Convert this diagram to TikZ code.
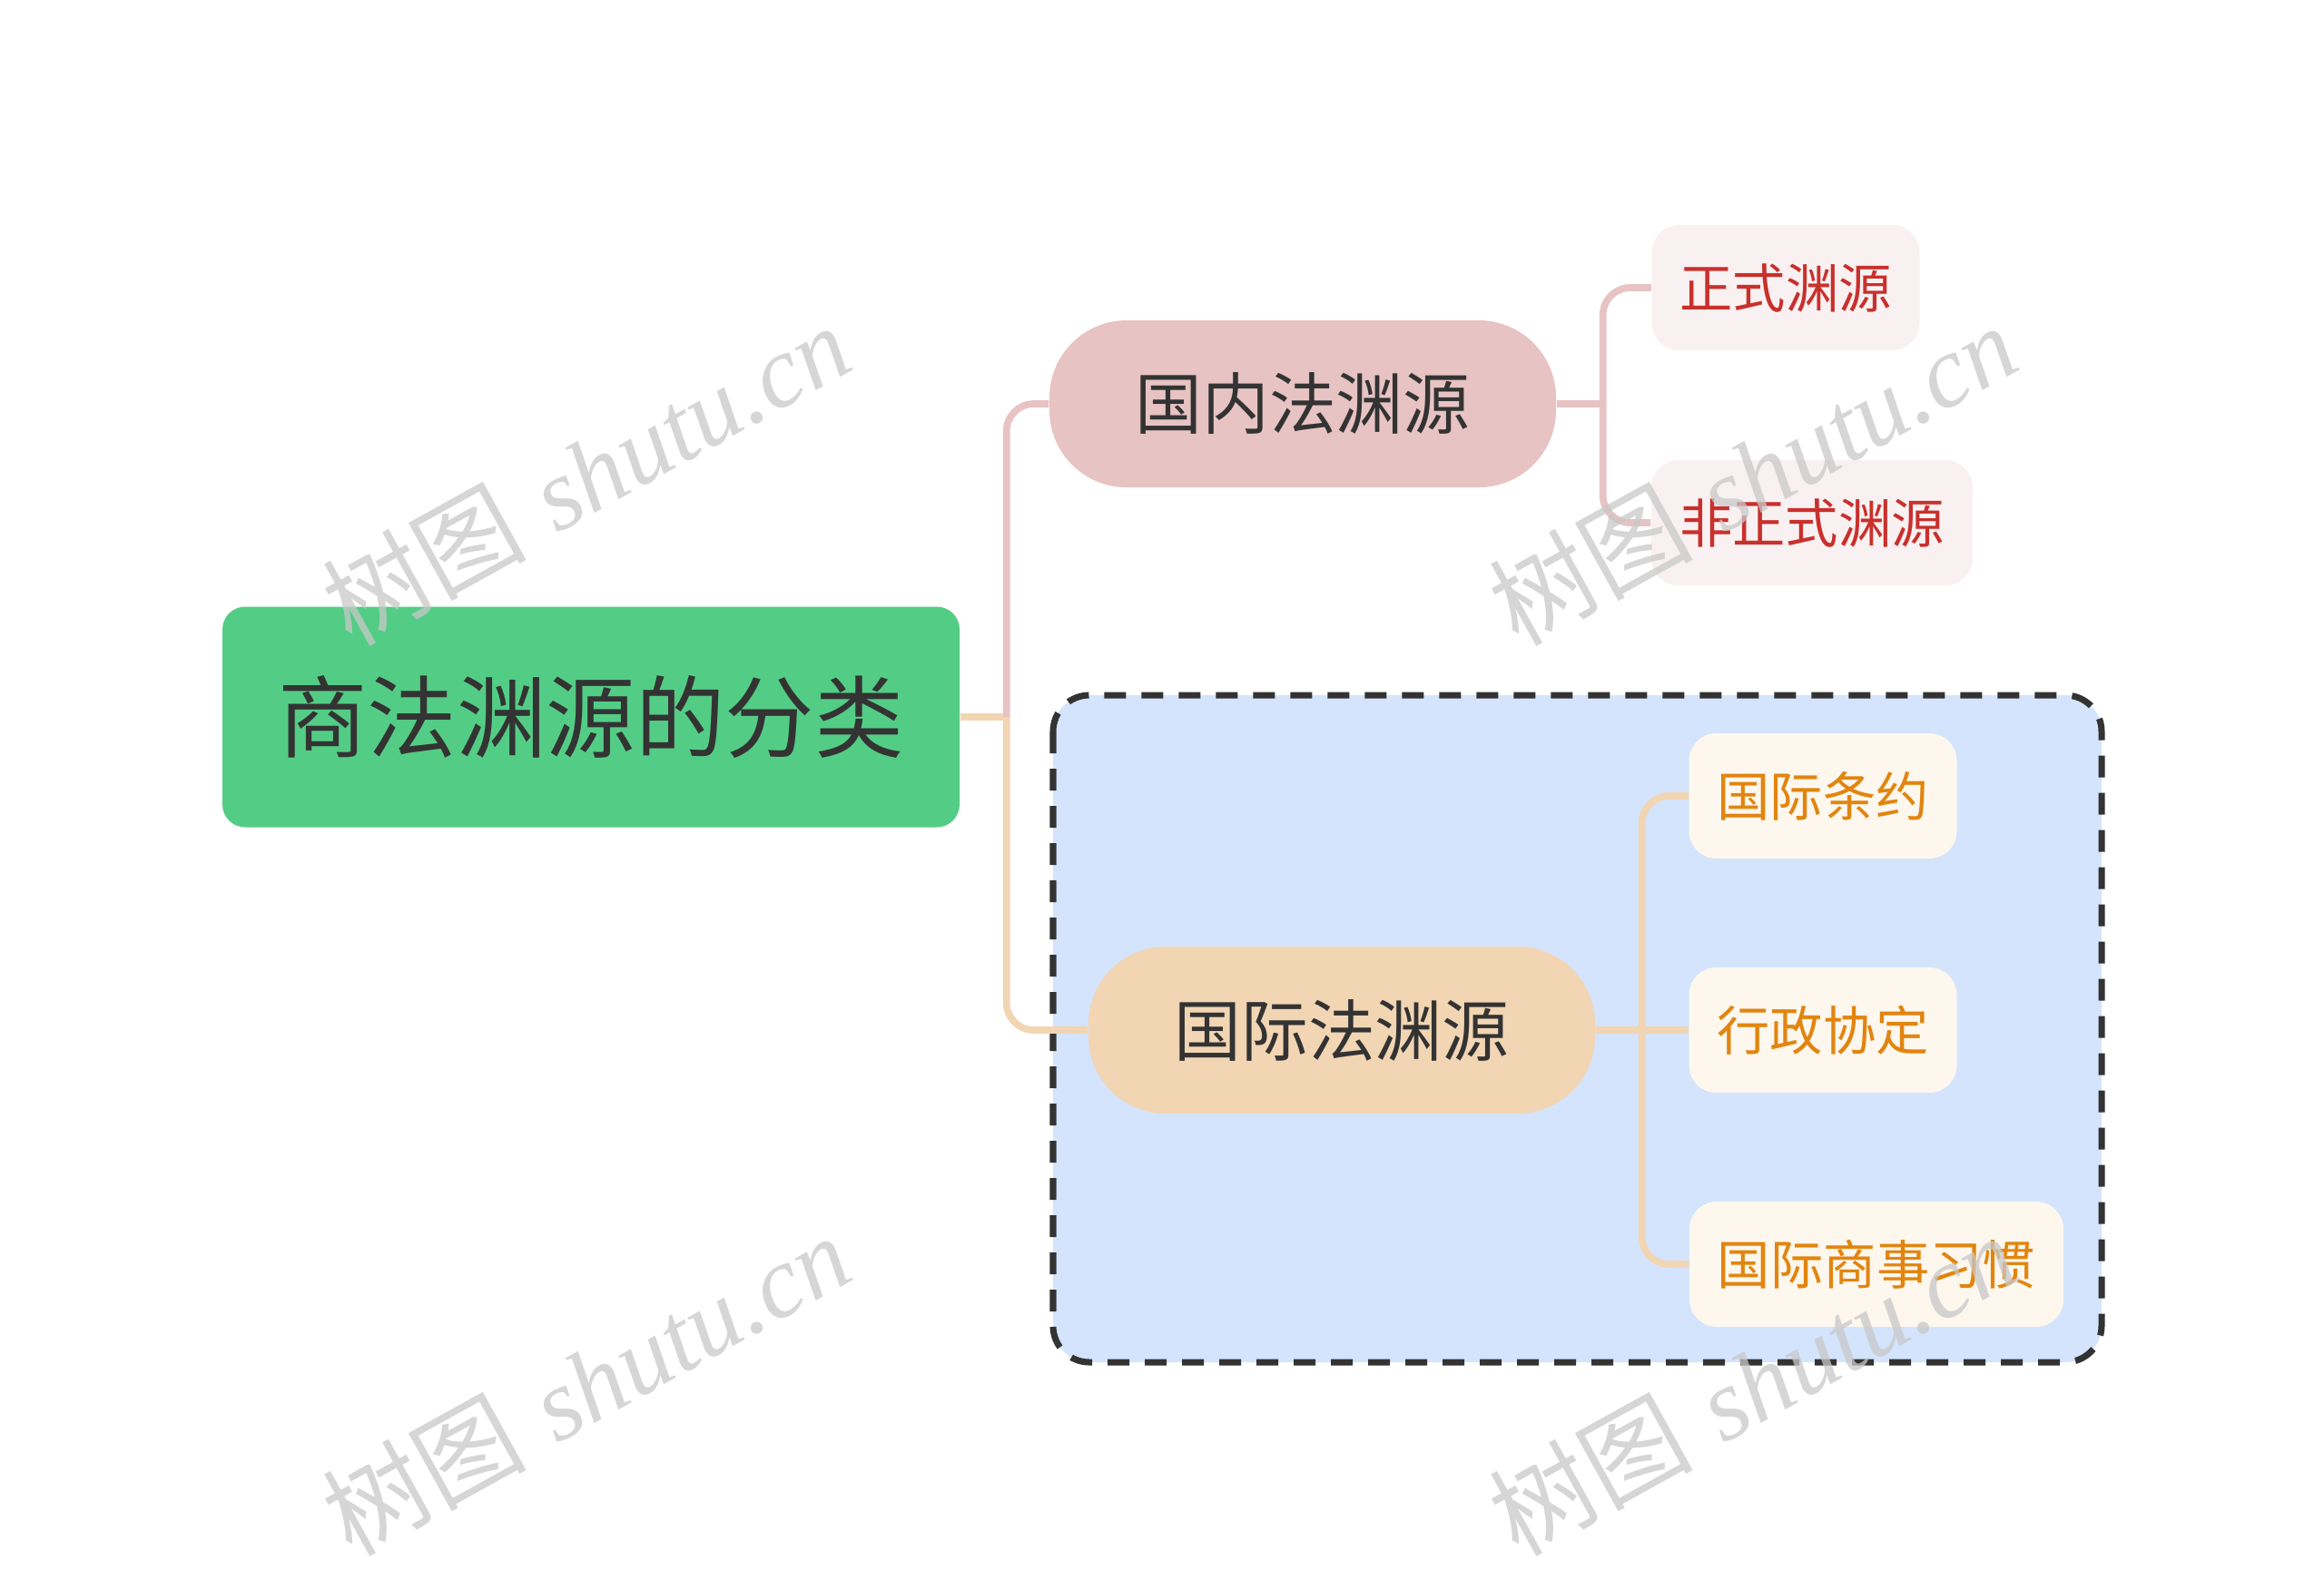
\documentclass[tikz,border=0pt]{standalone}
\usepackage{fontspec}
\usepackage{tikz}
\newfontfamily\cjk{Noto Sans CJK SC}
\newfontfamily\wmfont{Liberation Serif}

\definecolor{rootgreen}{HTML}{53CD85}
\definecolor{pinkfill}{HTML}{E8C3C3}
\definecolor{peachfill}{HTML}{F2D5B3}
\definecolor{pinkleaf}{HTML}{F9F1F1}
\definecolor{peachleaf}{HTML}{FDF7EE}
\definecolor{boxblue}{HTML}{D4E4FC}
\definecolor{txtdark}{HTML}{333333}
\definecolor{txtred}{HTML}{C9302C}
\definecolor{txtorange}{HTML}{E2850F}
\definecolor{wmgray}{HTML}{C8C8C8}

\tikzset{
  rootbox/.style={fill=rootgreen, rounded corners=0.25cm, minimum width=8.12cm,
    minimum height=2.43cm, text=txtdark, font=\cjk\fontsize{28pt}{34pt}\selectfont},
  pillbox/.style={rounded corners=0.85cm, minimum width=5.58cm, minimum height=1.84cm,
    text=txtdark, font=\cjk\fontsize{21pt}{26pt}\selectfont},
  leafbox/.style={rounded corners=0.3cm, minimum height=1.38cm, inner xsep=0.3cm,
    font=\cjk\fontsize{16.6pt}{20pt}\selectfont},
  pinkline/.style={draw=pinkfill, line width=2.2pt, rounded corners=0.3cm},
  peachline/.style={draw=peachfill, line width=2.2pt, rounded corners=0.3cm},
  wmark/.style={text=wmgray, opacity=0.75, rotate=29, font=\fontsize{32pt}{38pt}\selectfont}
}

\begin{document}
\begin{tikzpicture}
\useasboundingbox (0,0) rectangle (25.6,-17.51);

% dashed frame
\draw[fill=boxblue, draw=txtdark, line width=2pt, dash pattern=on 0.24cm off 0.17cm,
  rounded corners=0.4cm] (11.60,-7.66) rectangle (23.15,-15.01);

% nodes
\node[rootbox] (root) at (6.51,-7.90) {商法渊源的分类};
\node[pillbox, fill=pinkfill] (dom) at (14.35,-4.45) {国内法渊源};
\node[pillbox, fill=peachfill] (intl) at (14.78,-11.35) {国际法渊源};

\node[leafbox, fill=pinkleaf, text=txtred, minimum width=2.95cm] (formal) at (19.67,-3.17) {正式渊源};
\node[leafbox, fill=pinkleaf, text=txtred, minimum width=3.54cm] (informal) at (19.96,-5.76) {非正式渊源};

\node[leafbox, fill=peachleaf, text=txtorange, minimum width=2.95cm] (treaty) at (20.08,-8.77) {国际条约};
\node[leafbox, fill=peachleaf, text=txtorange, minimum width=2.95cm] (admin) at (20.08,-11.35) {行政协定};
\node[leafbox, fill=peachleaf, text=txtorange, minimum width=4.12cm] (custom) at (20.67,-13.93) {国际商事习惯};

% root
\draw[peachline] (root.east) -- ++(0.51,0) coordinate (rootfork);
\draw[pinkline] (rootfork) |- (dom.west);
\draw[peachline] (rootfork) |- (intl.west);

% domestic
\draw[pinkline] (dom.east) -- ++(0.51,0) coordinate (domfork);
\draw[pinkline] (domfork) |- (formal.west);
\draw[pinkline] (domfork) |- (informal.west);

% international
\draw[peachline] (intl.east) -- (admin.west);
\path (intl.east) -- ++(0.51,0) coordinate (intlfork);
\draw[peachline] (intlfork) |- (treaty.west);
\draw[peachline] (intlfork) |- (custom.west);

% watermarks
\node[wmark] (wm1) at (6.45,-5.22) {{\cjk 树图} \wmfont\itshape shutu.cn};
\node[wmark] (wm2) at (19.30,-5.22) {{\cjk 树图} \wmfont\itshape shutu.cn};
\node[wmark] (wm3) at (6.45,-15.25) {{\cjk 树图} \wmfont\itshape shutu.cn};
\node[wmark] (wm4) at (19.30,-15.25) {{\cjk 树图} \wmfont\itshape shutu.cn};
\end{tikzpicture}
\end{document}
